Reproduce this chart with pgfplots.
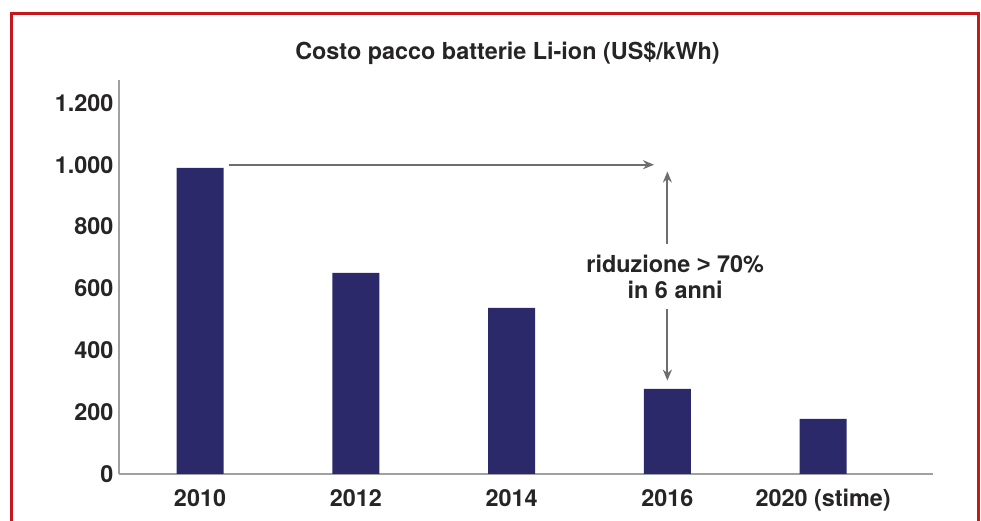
\documentclass[border=0pt]{standalone}
\usepackage{pgfplots}
\pgfplotsset{compat=1.18}
\usepackage{fontspec}
\setmainfont{TeX Gyre Heros}
\newfontfamily\lib{Liberation Sans}
\usetikzlibrary{arrows.meta}
\definecolor{navy}{RGB}{44,41,107}
\definecolor{frame}{RGB}{196,24,28}
\definecolor{txt}{RGB}{38,36,36}
\definecolor{axgray}{RGB}{160,160,160}
\definecolor{arrgray}{RGB}{110,110,110}
\begin{document}
\begin{tikzpicture}[x=1pt,y=1pt]
\useasboundingbox (0,0) rectangle (981,521);
\draw[frame, line width=3pt] (11.5,-10) -- (11.5,507.5) -- (978.5,507.5) -- (978.5,-10);
\node[anchor=base, text=txt, font=\fontsize{23.4}{28}\selectfont\bfseries] at (507.5,461) {Costo pacco batterie Li-ion (US\$/kWh)};
\begin{axis}[
  at={(119pt,47pt)}, anchor=south west,
  scale only axis, width=814pt, height=394pt,
  xmin=-0.52, xmax=4.705, ymin=0, ymax=1274,
  axis x line*=bottom, axis y line*=left,
  axis line style={axgray, line width=2pt},
  major tick length=0pt,
  xtick={0,1,2,3,4},
  xticklabels={2010,2012,2014,2016,{2020 (stime)}},
  ytick={0,200,400,600,800,1000,1200},
  yticklabels={0,200,400,600,800,{1.000},{1.200}},
  ticklabel style={text=txt, font=\fontsize{23.4}{28}\selectfont\bfseries},
  xticklabel style={anchor=base, yshift=-33pt},
  yticklabel style={xshift=-2pt},
  /pgf/number format/assume math mode=true,
  clip=false,
]
\addplot[ybar, bar width=47pt, fill=navy, draw=none] coordinates {(0,990) (1,650) (2,537) (3,275) (4,178)};
\draw[arrgray, line width=1.8pt, -{Stealth[length=11pt,width=9pt]}] (axis cs:0.186,1000) -- (axis cs:2.914,1000);
\draw[arrgray, line width=1.8pt, -{Stealth[length=11pt,width=9pt]}] (axis cs:3,744) -- (axis cs:3,978);
\draw[arrgray, line width=1.8pt, -{Stealth[length=11pt,width=9pt]}] (axis cs:3,534) -- (axis cs:3,302);
\node[anchor=base, text=txt, font=\fontsize{23.4}{28}\selectfont\bfseries] at (axis cs:3.05,651) {riduzione {\lib\bfseries >} 70\%};
\node[anchor=base, text=txt, font=\fontsize{23.4}{28}\selectfont\bfseries] at (axis cs:3.05,569) {in 6 anni};
\end{axis}
\end{tikzpicture}
\end{document}
